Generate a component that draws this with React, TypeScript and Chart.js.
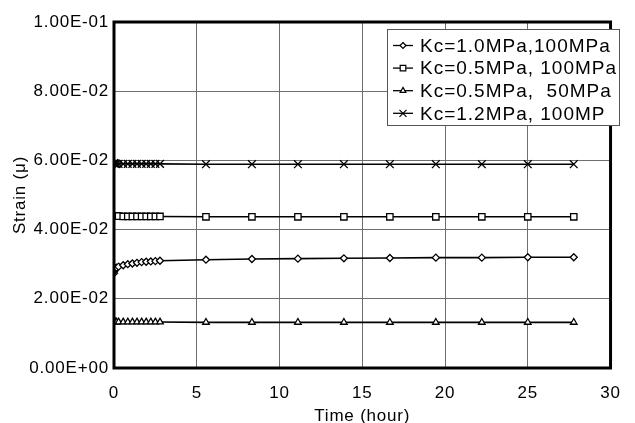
import React, { useEffect, useRef } from 'react';
import { Chart, registerables } from 'chart.js';

Chart.register(...registerables);

// ---- data ----
const TIME_HOURS = [0, 0.02, 0.05, 0.1, 0.15, 0.278, 0.556, 0.833, 1.111, 1.389, 1.667, 1.944, 2.222, 2.5, 2.778, 5.556, 8.333, 11.111, 13.889, 16.667, 19.444, 22.222, 25, 27.778];
const KC10_100 = [0.0274, 0.028, 0.0285, 0.0288, 0.029, 0.0293, 0.0297, 0.03, 0.0302, 0.0304, 0.0306, 0.0307, 0.0308, 0.0309, 0.031, 0.0313, 0.0315, 0.0316, 0.0317, 0.0318, 0.0319, 0.0319, 0.032, 0.032];
const KC05_100 = [0.044, 0.0439, 0.0439, 0.0439, 0.0439, 0.0439, 0.0438, 0.0438, 0.0438, 0.0438, 0.0438, 0.0438, 0.0438, 0.0438, 0.0438, 0.0437, 0.0437, 0.0437, 0.0437, 0.0437, 0.0437, 0.0437, 0.0437, 0.0437];
const KC05_50 = [0.0135, 0.0134, 0.0134, 0.0133, 0.0133, 0.0133, 0.0133, 0.0133, 0.0133, 0.0133, 0.0133, 0.0133, 0.0133, 0.0133, 0.0133, 0.0132, 0.0132, 0.0132, 0.0132, 0.0132, 0.0132, 0.0132, 0.0132, 0.0132];
const KC12_100 = [0.0592, 0.0591, 0.0591, 0.059, 0.059, 0.059, 0.059, 0.059, 0.059, 0.059, 0.059, 0.059, 0.059, 0.059, 0.059, 0.0589, 0.0589, 0.0589, 0.0589, 0.0589, 0.0589, 0.0589, 0.0589, 0.0589];
const SERIES_LABELS = ['Kc=1.0MPa,100MPa', 'Kc=0.5MPa, 100MPa', 'Kc=0.5MPa,  50MPa', 'Kc=1.2MPa, 100MP'];
const SERIES_MARKERS = ['diamond', 'square', 'triangle', 'cross'];
const X_TICKS = [0, 5, 10, 15, 20, 25, 30];
const Y_TICKS = [0, 0.02, 0.04, 0.06, 0.08, 0.1];
const X_TITLE = 'Time (hour)';
const Y_TITLE = 'Strain (\u03bc)';

const FONT = '"Liberation Sans", Arial, Helvetica, sans-serif';

function sci(v: number): string {
  if (Math.abs(v) < 1e-12) return '0.00E+00';
  const e = Math.floor(Math.log10(Math.abs(v)) + 1e-9);
  const m = v / Math.pow(10, e);
  return m.toFixed(2) + 'E' + (e < 0 ? '-' : '+') + String(Math.abs(e)).padStart(2, '0');
}

const chartPointStyle: Record<string, string> = {
  diamond: 'rectRot',
  square: 'rect',
  triangle: 'triangle',
  cross: 'crossRot',
};
const chartPointRadius: Record<string, number> = {
  diamond: 3.5,
  square: 4.5,
  triangle: 3.8,
  cross: 5.5,
};

function drawMarker(ctx: CanvasRenderingContext2D, kind: string, x: number, y: number) {
  ctx.save();
  ctx.strokeStyle = '#000';
  ctx.fillStyle = '#fff';
  ctx.lineWidth = 1.2;
  ctx.beginPath();
  if (kind === 'diamond') {
    const r = 3;
    ctx.moveTo(x, y - r);
    ctx.lineTo(x + r, y);
    ctx.lineTo(x, y + r);
    ctx.lineTo(x - r, y);
    ctx.closePath();
    ctx.fill();
    ctx.stroke();
  } else if (kind === 'square') {
    const s = 2.8;
    ctx.rect(x - s, y - s, 2 * s, 2 * s);
    ctx.fill();
    ctx.stroke();
  } else if (kind === 'triangle') {
    const r = 3.3;
    ctx.moveTo(x, y - r);
    ctx.lineTo(x + r * 0.866, y + r * 0.5);
    ctx.lineTo(x - r * 0.866, y + r * 0.5);
    ctx.closePath();
    ctx.fill();
    ctx.stroke();
  } else {
    const r = 3.5;
    ctx.moveTo(x - r, y - r);
    ctx.lineTo(x + r, y + r);
    ctx.moveTo(x + r, y - r);
    ctx.lineTo(x - r, y + r);
    ctx.stroke();
  }
  ctx.restore();
}

const framePlugin = {
  id: 'frameAndLegend',
  beforeDraw(chart: any) {
    const ctx = chart.ctx as any;
    ctx.letterSpacing = '0.8px';
  },
  afterDraw(chart: any) {
    const ctx = chart.ctx as CanvasRenderingContext2D;
    const a = chart.chartArea;
    ctx.save();
    // plot frame
    ctx.strokeStyle = '#000';
    ctx.lineWidth = 3;
    ctx.strokeRect(a.left, a.top, a.right - a.left, a.bottom - a.top);

    // legend box
    const bx = 387, by = 29, bw = 232, bh = 96;
    ctx.fillStyle = '#fff';
    ctx.fillRect(bx, by, bw, bh);
    ctx.strokeStyle = '#555';
    ctx.lineWidth = 1;
    ctx.strokeRect(bx + 0.5, by + 0.5, bw, bh);

    const rowY0 = 45.5;
    const rowGap = 22.6;
    ctx.font = '19px ' + FONT;
    (ctx as any).letterSpacing = '1px';
    ctx.textBaseline = 'middle';
    ctx.textAlign = 'left';
    for (let i = 0; i < SERIES_LABELS.length; i++) {
      const y = rowY0 + i * rowGap;
      ctx.strokeStyle = '#000';
      ctx.lineWidth = 1.3;
      ctx.beginPath();
      ctx.moveTo(393, y);
      ctx.lineTo(413, y);
      ctx.stroke();
      drawMarker(ctx, SERIES_MARKERS[i], 403, y);
      ctx.fillStyle = '#000';
      ctx.fillText(SERIES_LABELS[i], 420, y + 1);
    }
    ctx.restore();
  },
};

export default function App() {
  const canvasRef = useRef<HTMLCanvasElement | null>(null);

  useEffect(() => {
    if (!canvasRef.current) return;
    const seriesValues = [KC10_100, KC05_100, KC05_50, KC12_100];
    const datasets = seriesValues.map((vals, i) => {
      const kind = SERIES_MARKERS[i];
      return {
        label: SERIES_LABELS[i],
        data: TIME_HOURS.map((t, j) => ({ x: t, y: vals[j] })),
        showLine: true,
        borderColor: '#000',
        borderWidth: 1.6,
        backgroundColor: '#fff',
        pointStyle: chartPointStyle[kind],
        pointRadius: chartPointRadius[kind],
        pointBorderWidth: 1.3,
        pointBorderColor: '#000',
        pointBackgroundColor: '#fff',
        fill: false,
        tension: 0,
      };
    });

    const chart = new Chart(canvasRef.current, {
      type: 'scatter',
      data: { datasets },
      options: {
        responsive: false,
        animation: false,
        devicePixelRatio: 1,
        layout: { padding: { top: 22, right: 12, left: 0, bottom: 0 } },
        plugins: {
          legend: { display: false },
          tooltip: { enabled: false },
        },
        scales: {
          x: {
            type: 'linear',
            min: 0,
            max: 30,
            afterBuildTicks: (s: any) => {
              s.ticks = X_TICKS.map((v) => ({ value: v }));
            },
            afterFit: (s: any) => {
              s.height = 55;
            },
            ticks: {
              color: '#000',
              font: { family: FONT, size: 17 },
              padding: 15,
              maxRotation: 0,
              callback: (v: any) => String(v),
            },
            grid: { color: '#6e6e6e', lineWidth: 1, drawTicks: false },
            border: { display: false },
            title: {
              display: true,
              text: X_TITLE,
              color: '#000',
              font: { family: FONT, size: 17, lineHeight: 0.8 },
              padding: { top: 0, bottom: 0 },
            },
          },
          y: {
            type: 'linear',
            min: 0,
            max: 0.1,
            afterBuildTicks: (s: any) => {
              s.ticks = Y_TICKS.map((v) => ({ value: v }));
            },
            afterFit: (s: any) => {
              s.width = 114;
            },
            ticks: {
              color: '#000',
              font: { family: FONT, size: 17 },
              padding: 5,
              callback: (v: any) => sci(Number(v)),
            },
            grid: { color: '#6e6e6e', lineWidth: 1, drawTicks: false },
            border: { display: false },
            title: {
              display: true,
              text: Y_TITLE,
              color: '#000',
              font: { family: FONT, size: 17 },
              padding: { top: 10, bottom: 0 },
            },
          },
        },
      },
      plugins: [framePlugin],
    } as any);

    return () => {
      chart.destroy();
    };
  }, []);

  return (
    <div style={{ position: 'absolute', left: 0, top: 0, width: 635, height: 423, background: '#fff' }}>
      <canvas ref={canvasRef} width={635} height={423} style={{ display: 'block', width: 635, height: 423 }} />
    </div>
  );
}
